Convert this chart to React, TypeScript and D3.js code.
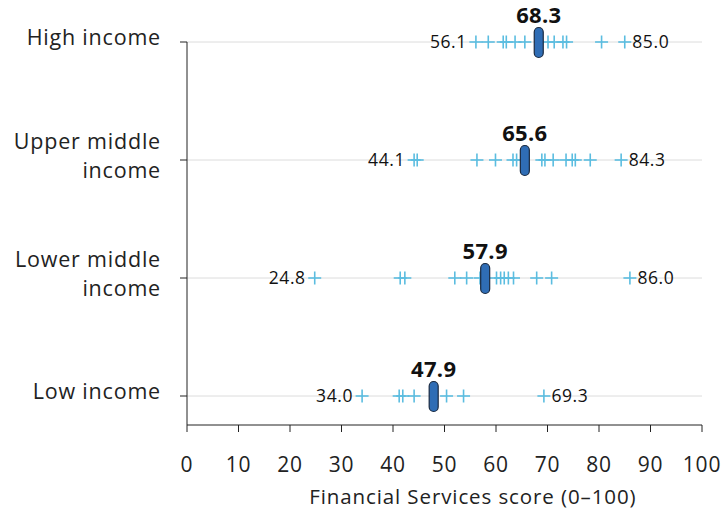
import React from "react";
import * as d3 from "d3";

const categories = ["High income", "Upper middle income", "Lower middle income", "Low income"];
const categoryLines = [["High income"], ["Upper middle", "income"], ["Lower middle", "income"], ["Low income"]];
const medians = [68.3, 65.6, 57.9, 47.9];
const mins = [56.1, 44.1, 24.8, 34.0];
const maxs = [85.0, 84.3, 86.0, 69.3];
const highIncome = [56.1, 58.5, 61.4, 62.0, 63.7, 65.6, 70.1, 71.3, 73.0, 73.7, 80.5, 85.0];
const upperMiddle = [44.1, 44.7, 56.3, 59.9, 63.3, 64.0, 68.9, 69.5, 71.1, 73.6, 74.8, 75.4, 78.3, 84.3];
const lowerMiddle = [24.8, 41.4, 42.3, 52.0, 54.3, 56.9, 60.1, 60.9, 61.6, 62.4, 63.4, 67.9, 70.8, 86.0];
const lowIncome = [34.0, 41.2, 41.9, 44.1, 50.4, 53.7, 69.3];
const seriesPoints = [highIncome, upperMiddle, lowerMiddle, lowIncome];
const xTicks = [0, 10, 20, 30, 40, 50, 60, 70, 80, 90, 100];
const xTitle = "Financial Services score (0–100)";

const W = 724, H = 515;
const FONT = "'Open Sans', 'Noto Sans', sans-serif";

export default function App() {
  const x = d3.scaleLinear().domain([0, 100]).range([187, 702]);
  const y = d3.scalePoint<string>().domain(categories).range([42, 396]);
  const axisBottom = 425;
  const plus = 6.5;
  return (
    <svg width={W} height={H} style={{ position: "absolute", left: 0, top: 0 }} fontFamily={FONT}>
      {categories.map((c) => (
        <line key={"g" + c} x1={x(0)} x2={x(100)} y1={y(c)} y2={y(c)} stroke="#dcdcdc" strokeWidth={1} />
      ))}
      <line x1={x(0)} x2={x(0)} y1={y(categories[0])} y2={axisBottom} stroke="#222" strokeWidth={1} />
      <line x1={x(0)} x2={x(100)} y1={axisBottom} y2={axisBottom} stroke="#222" strokeWidth={1} />
      {categories.map((c) => (
        <line key={"yt" + c} x1={x(0) - 7} x2={x(0)} y1={y(c)} y2={y(c)} stroke="#222" strokeWidth={1} />
      ))}
      {xTicks.map((t) => (
        <g key={"xt" + t}>
          <line x1={x(t)} x2={x(t)} y1={axisBottom} y2={axisBottom + 7} stroke="#222" strokeWidth={1} />
          <text x={x(t)} y={472} textAnchor="middle" fontSize={21} letterSpacing={0.8} fill="#222">{t}</text>
        </g>
      ))}
      <text x={x(55.5)} y={504} textAnchor="middle" fontSize={20.5} letterSpacing={0.9} fill="#222">{xTitle}</text>
      {categories.map((c, i) => {
        const lines = categoryLines[i];
        const cy = y(c)!;
        const lh = 29;
        const start = cy - ((lines.length - 1) * lh) / 2 + 3;
        return (
          <text key={"cl" + c} textAnchor="end" fontSize={21.5} letterSpacing={0.8} fill="#222">
            {lines.map((l, k) => (
              <tspan key={k} x={161} y={start + k * lh}>{l}</tspan>
            ))}
          </text>
        );
      })}
      {categories.map((c, i) => {
        const cy = y(c)!;
        return (
          <g key={"s" + c}>
            {seriesPoints[i].map((v, k) => (
              <g key={k} stroke="#5bbde0" strokeWidth={1.6}>
                <line x1={x(v) - plus} x2={x(v) + plus} y1={cy} y2={cy} />
                <line x1={x(v)} x2={x(v)} y1={cy - plus} y2={cy + plus} />
              </g>
            ))}
            <rect x={x(medians[i]) - 4.5} y={cy - 14.5} width={9} height={30} rx={4.5} fill="#2f6db5" stroke="#1a2a40" strokeWidth={1.2} />
            <text x={x(medians[i])} y={cy - 19} textAnchor="middle" fontSize={22} fontWeight="bold" letterSpacing={0.3} fill="#111">{medians[i].toFixed(1)}</text>
            <text x={x(mins[i]) - 9} y={cy + 6} textAnchor="end" fontSize={17.5} letterSpacing={0.6} fill="#111">{mins[i].toFixed(1)}</text>
            <text x={x(maxs[i]) + 7.5} y={cy + 6} textAnchor="start" fontSize={17.5} letterSpacing={0.6} fill="#111">{maxs[i].toFixed(1)}</text>
          </g>
        );
      })}
    </svg>
  );
}
